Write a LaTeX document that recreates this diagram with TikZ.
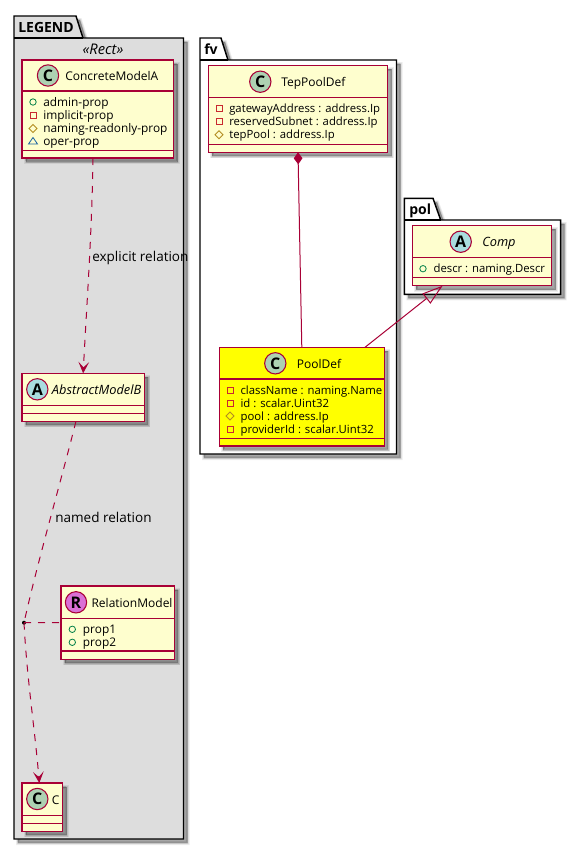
\documentclass[tikz,border=0pt]{standalone}
\usepackage{fontspec}
\setmainfont{Open Sans}
\usetikzlibrary{arrows.meta,fit,shadows}
\definecolor{umlborder}{HTML}{A80036}
\definecolor{umlfill}{HTML}{FEFECE}
\definecolor{legendgrey}{HTML}{DDDDDD}
\definecolor{poolyellow}{HTML}{FFFF00}
\definecolor{spotclass}{HTML}{ADD1B2}
\definecolor{spotabstract}{HTML}{A9DCDF}
\definecolor{spotrelation}{HTML}{DA70D6}
\definecolor{iconpublic}{HTML}{038048}
\definecolor{iconprivate}{HTML}{C82930}
\definecolor{iconprotected}{HTML}{B38D22}
\definecolor{iconpackage}{HTML}{1963A0}
\tikzset{
    softshadow/.style={
        general shadow={shadow xshift=3pt,shadow yshift=-3pt,fill=black,draw=black,line width=3pt,opacity=.07},
        general shadow={shadow xshift=3pt,shadow yshift=-3pt,fill=black,draw=black,line width=1.8pt,opacity=.09},
        general shadow={shadow xshift=3pt,shadow yshift=-3pt,fill=black,draw=black,line width=.6pt,opacity=.12},
        general shadow={shadow xshift=2.6pt,shadow yshift=-2.6pt,fill=black,opacity=.12}},
    classbox/.style={draw=umlborder,fill=umlfill,line width=1.1pt,inner sep=0pt,outer sep=0pt,softshadow},
    classline/.style={draw=umlborder,line width=1.1pt},
    packagebox/.style={draw=black,line width=1.1pt,softshadow},
    spot/.style={circle,draw=umlborder,line width=.8pt,minimum size=16pt,inner sep=0pt,font=\fontsize{12}{12}\selectfont\bfseries},
    classname/.style={anchor=base west,inner sep=0pt,font=\fontsize{9}{12}\selectfont},
    abstractname/.style={anchor=base west,inner sep=0pt,font=\fontsize{9.6}{12}\selectfont\itshape},
    attr/.style={anchor=base west,inner sep=0pt,font=\fontsize{8.5}{10}\selectfont},
    propattr/.style={anchor=base west,inner sep=0pt,font=\fontsize{8.9}{10}\selectfont},
    packagename/.style={anchor=base west,inner sep=0pt,font=\fontsize{10.5}{12}\selectfont\bfseries},
    edgelabel/.style={anchor=base west,inner sep=0pt,font=\fontsize{10.15}{12}\selectfont},
    edge/.style={draw=umlborder,line width=.75pt},
    dashededge/.style={edge,dash pattern=on 5.25pt off 5.25pt},
    vee/.style={-{Stealth[length=8.5pt,width=8pt,inset=4pt,umlborder]}},
    publicicon/.style={draw=iconpublic,line width=.6pt},
    privateicon/.style={draw=iconprivate,line width=.6pt},
    protectedicon/.style={draw=iconprotected,line width=.6pt},
    packageicon/.style={draw=iconpackage,line width=.6pt}
}
\begin{document}
\begin{tikzpicture}[x=0.75pt,y=-0.75pt]
    \useasboundingbox (0,0) rectangle (581,850);
    % packages
    \draw[packagebox,fill=legendgrey] (14,38) -- (14,16) -- (76,16) -- (83,38) -- (183.5,38) -- (183.5,839) -- (14,839) -- cycle;
    \draw[line width=1.1pt] (14,38) -- (83,38);
    \node[packagename] (legendname) at (18,32) {LEGEND};
    \node[anchor=base,inner sep=0pt,font=\fontsize{11}{12}\selectfont\itshape] (legendstereo) at (103,54) {«Rect»};
    \draw[packagebox,fill=white] (200,60) -- (200,38) -- (221,38) -- (228,60) -- (396.5,60) -- (396.5,454) -- (200,454) -- cycle;
    \draw[line width=1.1pt] (200,60) -- (228,60);
    \node[packagename] (fvname) at (204,54) {fv};
    \draw[packagebox,fill=white] (404.3,220) -- (404.3,198.3) -- (433,198.3) -- (440.7,220) -- (560.7,220) -- (560.7,294.3) -- (404.3,294.3) -- cycle;
    \draw[line width=1.1pt] (404.3,220) -- (440.7,220);
    \node[packagename] (polname) at (409,214.5) {pol};
    % ConcreteModelA
    \node[classbox,fit={(22,60) (173.5,158)}] (concretea) {};
    \draw[classline] (concretea.west |- 0,91) -- (concretea.east |- 0,91);
    \draw[classline] (concretea.west |- 0,150.7) -- (concretea.east |- 0,150.7);
    \node[spot,fill=spotclass] (concreteaspot) at (48,75.5) {C};
    \node[classname] (concreteaname) at (65,80.5) {ConcreteModelA};
    \draw[publicicon] (33,102) circle (3.2);
    \node[propattr] (concreteattra) at (43,106) {admin-prop};
    \draw[privateicon] (30,112) rectangle (36,118);
    \node[propattr] (concreteattrb) at (43,119) {implicit-prop};
    \draw[protectedicon] (33,124.5) -- (37,128.5) -- (33,132.5) -- (29,128.5) -- cycle;
    \node[propattr] (concreteattrc) at (43,132) {naming-readonly-prop};
    \draw[packageicon] (33,137.5) -- (37.5,144) -- (28.5,144) -- cycle;
    \node[propattr] (concreteattrd) at (43,145) {oper-prop};
    % AbstractModelB
    \node[classbox,fit={(22,373.3) (144.3,421.3)}] (abstractb) {};
    \draw[classline] (abstractb.west |- 0,405.7) -- (abstractb.east |- 0,405.7);
    \draw[classline] (abstractb.west |- 0,413.3) -- (abstractb.east |- 0,413.3);
    \node[spot,fill=spotabstract] (abstractbspot) at (37.3,389.3) {A};
    \node[abstractname] (abstractbname) at (51.7,394.3) {AbstractModelB};
    % RelationModel
    \node[classbox,fit={(61,586) (174.3,659.3)}] (relationmodel) {};
    \draw[classline] (relationmodel.west |- 0,618.3) -- (relationmodel.east |- 0,618.3);
    \draw[classline] (relationmodel.west |- 0,651) -- (relationmodel.east |- 0,651);
    \node[spot,fill=spotrelation] (relationmodelspot) at (76,602.3) {R};
    \node[classname] (relationmodelname) at (91.3,607.3) {RelationModel};
    \draw[publicicon] (72.3,629.3) circle (3.2);
    \node[propattr] (relationattra) at (82.7,633.3) {prop1};
    \draw[publicicon] (72.3,642.3) circle (3.2);
    \node[propattr] (relationattrb) at (82.7,646.3) {prop2};
    % C
    \node[classbox,fit={(22,783) (62.7,831.3)}] (classc) {};
    \draw[classline] (classc.west |- 0,815.7) -- (classc.east |- 0,815.7);
    \draw[classline] (classc.west |- 0,823.3) -- (classc.east |- 0,823.3);
    \node[spot,fill=spotclass] (classcspot) at (37.3,799) {C};
    \node[classname] (classcname) at (51.7,804) {C};
    % TepPoolDef
    \node[classbox,fit={(208.3,65.3) (387.7,152.3)}] (teppooldef) {};
    \draw[classline] (teppooldef.west |- 0,97.3) -- (teppooldef.east |- 0,97.3);
    \draw[classline] (teppooldef.west |- 0,144.3) -- (teppooldef.east |- 0,144.3);
    \node[spot,fill=spotclass] (teppooldefspot) at (260.3,81.7) {C};
    \node[classname] (teppooldefname) at (281,86.7) {TepPoolDef};
    \draw[privateicon] (216,105.7) rectangle (222,111.7);
    \node[attr] (tepattra) at (229,112.7) {gatewayAddress : address.Ip};
    \draw[privateicon] (216,118.7) rectangle (222,124.7);
    \node[attr] (tepattrb) at (229,125.7) {reservedSubnet : address.Ip};
    \draw[protectedicon] (219,130.7) -- (223,134.7) -- (219,138.7) -- (215,134.7) -- cycle;
    \node[attr] (tepattrc) at (229,138.7) {tepPool : address.Ip};
    % PoolDef
    \node[classbox,fill=poolyellow,fit={(219.3,347.3) (384.3,446)}] (pooldef) {};
    \draw[classline] (pooldef.west |- 0,379) -- (pooldef.east |- 0,379);
    \draw[classline] (pooldef.west |- 0,438.3) -- (pooldef.east |- 0,438.3);
    \node[spot,fill=spotclass] (pooldefspot) at (275.3,363.3) {C};
    \node[classname] (pooldefname) at (296.7,368.3) {PoolDef};
    \draw[privateicon] (227,387) rectangle (233,393);
    \node[attr] (poolattra) at (240.3,394) {className : naming.Name};
    \draw[privateicon] (227,400) rectangle (233,406);
    \node[attr] (poolattrb) at (240.3,407) {id : scalar.Uint32};
    \draw[protectedicon] (230,412) -- (234,416) -- (230,420) -- (226,416) -- cycle;
    \node[attr] (poolattrc) at (240.3,420) {pool : address.Ip};
    \draw[privateicon] (227,426) rectangle (233,432);
    \node[attr] (poolattrd) at (240.3,433) {providerId : scalar.Uint32};
    % Comp
    \node[classbox,fit={(412.3,225.3) (551.7,285.7)}] (comp) {};
    \draw[classline] (comp.west |- 0,257.3) -- (comp.east |- 0,257.3);
    \draw[classline] (comp.west |- 0,277.7) -- (comp.east |- 0,277.7);
    \node[spot,fill=spotabstract] (compspot) at (460.7,241.7) {A};
    \node[abstractname] (compname) at (482,246.7) {Comp};
    \draw[publicicon] (423,268.7) circle (3.2);
    \node[attr] (compattra) at (433.3,272.7) {descr : naming.Descr};
    % relations
    \node[circle,fill=black,minimum size=3pt,inner sep=0pt] (relationdot) at (24,622.7) {};
    \draw[dashededge,vee] ([xshift=-3.56pt]concretea.south) .. controls (92,230) and (87,300) .. (abstractb.north);
    \node[edgelabel] (explicitlabel) at (92,261.5) {explicit relation};
    \draw[dashededge] ([xshift=-5.4pt]abstractb.south) .. controls (60,485) and (38,560) .. (relationdot.center);
    \node[edgelabel] (namedlabel) at (55,522.5) {named relation};
    \draw[dashededge,vee] (relationdot.center) .. controls (27,680) and (35,730) .. ([xshift=-2.3pt]classc.north);
    \draw[dashededge] (relationdot.center) -- (relationmodel.west);
    \draw[edge,{Diamond[length=9pt,width=6.5pt,umlborder]}-] (teppooldef.south) -- (pooldef.north);
    \draw[edge,-{Triangle[open,length=15.6pt,width=9.6pt,umlborder]}] ([xshift=47.4pt]pooldef.north) -- ([xshift=-29.5pt]comp.south);
\end{tikzpicture}
\end{document}
